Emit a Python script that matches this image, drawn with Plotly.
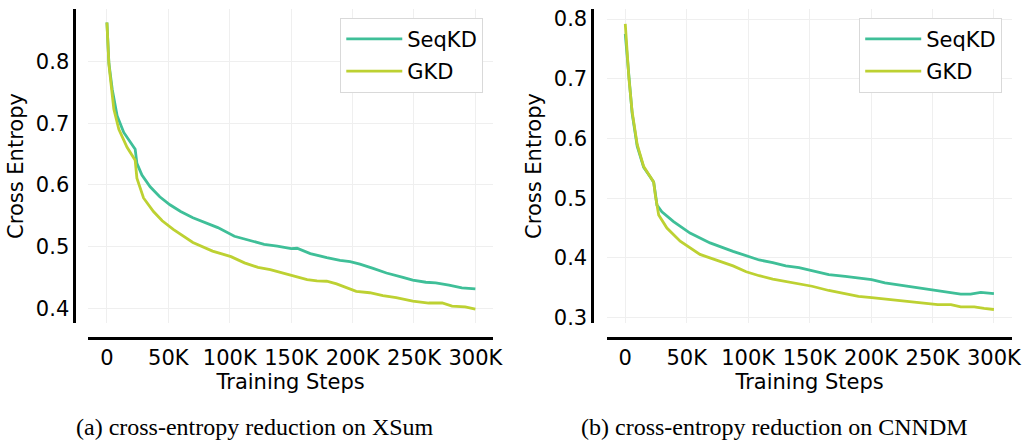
import plotly.graph_objects as go

# Training steps (in thousands) and cross-entropy values per run
xsum_seqkd_k = [0, 1.6, 4.3, 8.3, 13.7, 18, 21.8, 23.0, 24.4, 28.5, 35.2, 43, 51.3, 60, 70, 83.6,
                90.3, 103.8, 114.5, 128, 138.7, 150, 154.8, 165.6, 179, 189.8, 198, 206, 216.7,
                227.6, 241, 249, 259.7, 267.7, 278.5, 289, 300]
xsum_seqkd_ce = [0.863, 0.797, 0.755, 0.712, 0.685, 0.672, 0.661, 0.658, 0.635, 0.616, 0.597, 0.581, 0.568,
                 0.557, 0.547, 0.536, 0.531, 0.517, 0.511, 0.504, 0.501, 0.497, 0.4976, 0.489, 0.4826,
                 0.478, 0.476, 0.472, 0.465, 0.4576, 0.4506, 0.446, 0.4426, 0.4416, 0.438, 0.4336, 0.432]

xsum_gkd_k = [0, 1.6, 5.6, 9.7, 16.4, 21.8, 23.0, 24.4, 29.8, 37.9, 45, 54, 62, 70, 86, 90.3, 101, 112,
              123, 133, 144, 152, 163, 171, 179, 187, 195, 203, 214, 224.7, 235.5, 249, 262, 273,
              281, 291.7, 300]
xsum_gkd_ce = [0.863, 0.795, 0.723, 0.690, 0.661, 0.643, 0.640, 0.611, 0.579, 0.557, 0.542, 0.528, 0.517,
               0.507, 0.493, 0.4906, 0.484, 0.474, 0.4666, 0.463, 0.457, 0.452, 0.4469, 0.4448,
               0.4442, 0.44, 0.4346, 0.428, 0.4256, 0.421, 0.4176, 0.412, 0.409, 0.409, 0.404,
               0.4026, 0.399]

cnndm_seqkd_k = [0, 3, 5.6, 9.7, 15, 20.5, 23.1, 24.5, 25.8, 29.8, 39.3, 52.7, 69, 87.7, 98.4, 109,
                 120, 130.6, 141.4, 152, 165.6, 179, 189.8, 200.5, 211.3, 222, 232.8, 243.5, 254.3,
                 265, 273, 281, 289.3, 300]
cnndm_seqkd_ce = [0.775, 0.697, 0.642, 0.587, 0.5516, 0.535, 0.527, 0.5076, 0.4885, 0.4774, 0.461,
                  0.4417, 0.4252, 0.411, 0.4033, 0.3967, 0.3923, 0.3868, 0.384, 0.3786, 0.372,
                  0.3692, 0.3665, 0.3638, 0.3583, 0.355, 0.3522, 0.3484, 0.3456, 0.3428, 0.3395,
                  0.3395, 0.3423, 0.3402]

cnndm_gkd_k = [0, 3, 5.6, 9.7, 15, 20.5, 23.1, 24.5, 25.8, 27.2, 33.9, 44.7, 60.8, 71.5, 87.7, 98.4,
               109, 120, 130.6, 141.4, 152, 165.6, 179, 189.8, 200.5, 214, 227.6, 241, 254.3, 265,
               273, 284, 292, 300]
cnndm_gkd_ce = [0.792, 0.700, 0.645, 0.590, 0.553, 0.536, 0.527, 0.505, 0.487, 0.472, 0.45, 0.428,
                0.406, 0.398, 0.3868, 0.377, 0.3703, 0.3648, 0.361, 0.3566, 0.3527, 0.3456, 0.3402,
                0.3357, 0.3336, 0.3303, 0.3275, 0.3247, 0.322, 0.322, 0.3181, 0.3181, 0.3155, 0.3138]

tick_vals = [0, 50000, 100000, 150000, 200000, 250000, 300000]
tick_text = ["0", "50K", "100K", "150K", "200K", "250K", "300K"]
series_names = ["SeqKD", "GKD"]
captions = ["(a) cross-entropy reduction on XSum", "(b) cross-entropy reduction on CNNDM"]

SEQKD_COLOR = "#3fbf98"
GKD_COLOR = "#bdd132"
FONT = "DejaVu Sans"
FS = 21
W, H = 1034, 445

fig = go.Figure()


def add_run(xk, ce, name, color, xa, ya, legend):
    fig.add_trace(go.Scatter(
        x=[v * 1000 for v in xk], y=ce, mode="lines", name=name,
        line=dict(color=color, width=2.8), xaxis=xa, yaxis=ya, legend=legend,
        legendgroup=name + legend,
    ))


add_run(xsum_seqkd_k, xsum_seqkd_ce, series_names[0], SEQKD_COLOR, "x", "y", "legend")
add_run(xsum_gkd_k, xsum_gkd_ce, series_names[1], GKD_COLOR, "x", "y", "legend")
add_run(cnndm_seqkd_k, cnndm_seqkd_ce, series_names[0], SEQKD_COLOR, "x2", "y2", "legend2")
add_run(cnndm_gkd_k, cnndm_gkd_ce, series_names[1], GKD_COLOR, "x2", "y2", "legend2")


def px_x(p):
    return p / W


def px_y(p):
    return 1 - p / H


grid = "#efefef"
common_x = dict(
    tickvals=tick_vals, ticktext=tick_text, showgrid=True, gridcolor=grid, gridwidth=1,
    zeroline=False, showline=True, linecolor="black", linewidth=2.6, ticks="",
    tickfont=dict(family=FONT, size=FS, color="black"),
    title=dict(text="Training Steps", font=dict(family=FONT, size=FS, color="black"), standoff=4),
    anchor="free", position=px_y(343),
)
common_y = dict(
    showgrid=True, gridcolor=grid, gridwidth=1, zeroline=False, showline=True,
    linecolor="black", linewidth=2.6, ticks="", dtick=0.1, tickformat=".1f",
    tickfont=dict(family=FONT, size=FS, color="black"),
    title=dict(text="Cross Entropy", font=dict(family=FONT, size=FS, color="black"), standoff=5),
    anchor="free", domain=[px_y(328), px_y(8)],
)

legend_common = dict(
    font=dict(family=FONT, size=FS, color="black"), bgcolor="white",
    bordercolor="#d9d9d9", borderwidth=1, xanchor="right", yanchor="top",
    tracegroupgap=2, itemwidth=56,
)

fig.update_layout(
    width=W, height=H, margin=dict(l=0, r=0, t=0, b=0),
    plot_bgcolor="white", paper_bgcolor="white",
    showlegend=True,
    xaxis=dict(common_x, domain=[px_x(89), px_x(498)], range=[-15300, 314500]),
    yaxis=dict(common_y, position=px_x(75), range=[0.3765, 0.885]),
    xaxis2=dict(common_x, domain=[px_x(613), px_x(1022)], range=[-14800, 314800]),
    yaxis2=dict(common_y, position=px_x(598), range=[0.291, 0.817]),
    legend=dict(legend_common, x=px_x(488), y=px_y(17)),
    legend2=dict(legend_common, x=px_x(1012), y=px_y(17)),
)

for cx, text in zip([257, 782], captions):
    fig.add_annotation(
        x=px_x(cx), y=px_y(434), xref="paper", yref="paper", text=text, showarrow=False,
        xanchor="center", yanchor="middle",
        font=dict(family="Liberation Serif", size=24, color="black"),
    )

fig.write_html("out.html")
